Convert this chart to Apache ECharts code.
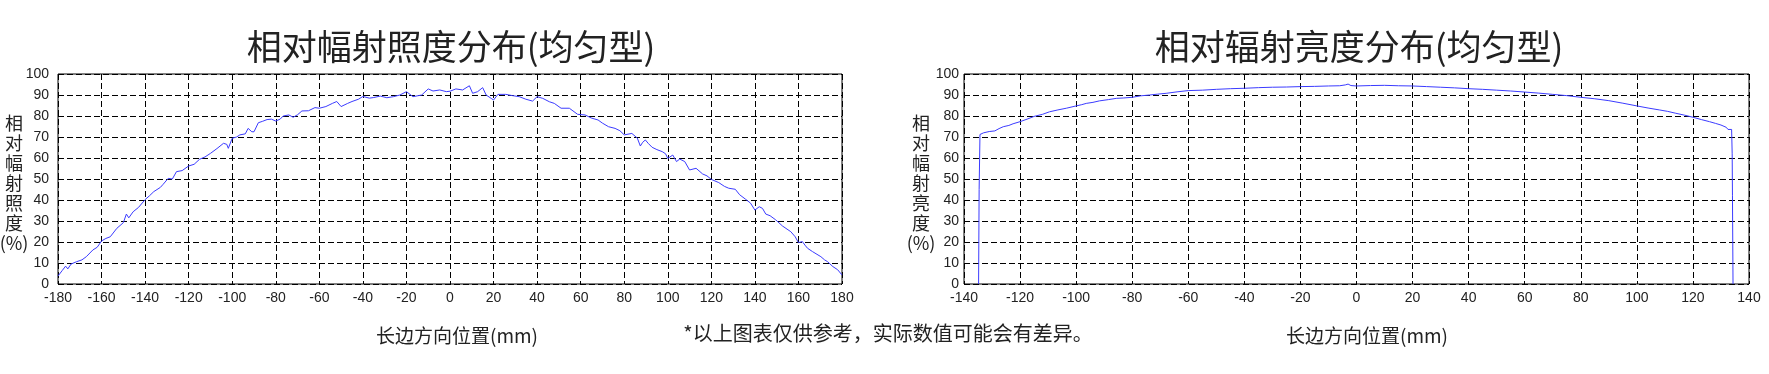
<!DOCTYPE html>
<html>
<head>
<meta charset="utf-8">
<script src="https://cdn.jsdelivr.net/npm/echarts@6/dist/echarts.min.js"></script>
<style>
html,body{margin:0;padding:0;background:#fff;}
#chart{width:1769px;height:374px;}
</style>
</head>
<body>
<div id="chart"></div>
<script>
// ---------- Data ----------
const leftTitle = '相对幅射照度分布(均匀型)';
const rightTitle = '相对辐射亮度分布(均匀型)';
const leftYName = ['相','对','幅','射','照','度','(%)'];
const rightYName = ['相','对','幅','射','亮','度','(%)'];
const xAxisName = '长边方向位置(mm)';
const footnote = '*以上图表仅供参考，实际数值可能会有差异。';

// Left chart: relative irradiance (%) vs position (mm)
const leftX = [-180,-178,-176.5,-175.5,-174,-171.5,-169,-167,-164,-162,-160,-158,-156,-153,-150,-148.6,-147.5,-145.5,-143,-140,
  -138,-136,-133,-131.7,-129.4,-127.5,-125.6,-123,-120,-117.5,-115,-112.5,-110,-107,-104,-102.5,-101.8,-100,-98,-96.5,
  -94,-92.7,-91,-90,-88,-86,-84,-82,-80,-78,-76.6,-74,-72,-70,-68,-65,-62,-60,-57,-54,
  -52,-50,-47,-45,-42,-40,-37,-35,-32,-29,-26,-23,-20,-17,-13,-10,-7.8,-4.7,-1.7,0,
  2.7,5.8,8.9,10.4,12.7,15,16.6,18.9,20,22,25.6,28.7,31.8,34.8,37.9,40,42.6,45.6,47.9,51,
  54.8,58.6,62,65,68,70,72.8,75.8,78,80,83.5,86,87.4,88.5,89.7,91,92.8,95,97.5,99,
  100,102.3,104,105.5,107.8,110,113,116,118,120,123.4,126,128,131,133,135.8,138,140,142,143.5,
  145,147,149.6,152.7,156.5,158.5,160,161.8,163,164.2,166.5,170.3,172,173.4,175.8,178,180];
const leftY = [3.8,6.5,8.5,7.2,9.5,10.6,11.5,13,16.2,17.5,20.5,21.7,22.5,26.5,29.2,33.3,31.5,34.4,36.5,40.2,
  42,44,46,47.5,50.3,50,53.5,54,56.2,57,59.4,60.5,62.2,64.5,67,66.5,64.6,69.4,70,71,
  71.5,74.1,72.5,72.5,76.8,77.5,78.3,78.5,77.6,78.5,80,80.5,79.4,80.6,82.4,82.5,84,83.7,84.5,86,
  86.9,84.5,86,86.9,88,89.3,88.5,88.8,89.5,88.7,89.2,90,91.6,89.2,90,92.9,91.9,92.4,91.6,91.8,
  92.9,92.4,94.4,90.8,91.6,93.5,90,88.4,87.6,90.3,90.3,89.7,89.2,88,87.1,89.2,88.4,86.8,86,83.7,
  83.7,80.8,80.5,79,78.1,76.6,74.9,74.1,73,71,71.7,69.5,65.7,67.5,68.6,67,65.1,64,63,62,
  59.8,61.4,58.3,59.5,58.3,54.3,55.1,52.4,51.5,49.8,48.3,46.5,45.6,45.1,42.5,40.3,38.5,35.2,36.8,36,
  33.3,32.5,30.5,27.6,24.9,22.5,19.7,20.2,18.5,17,15.4,13,11.5,10.6,8.3,6.8,4.3];

// Right chart: relative radiance (%) vs position (mm)
const rightX = [-134.8,-134.6,-134.3,-133,-131,-129,-127.5,-126,-124,-122.5,-120,-117.5,-115,-112,-109.5,-106.5,-103.5,-100,-98,-96.4,
  -94,-91.7,-88.5,-85.7,-83,-80,-77,-73.8,-71,-67.9,-64,-60,-55,-50,-45,-40,-35,-30,-25,-20,
  -15,-10,-6,-4,-3,-2,0,5,10,15,20,25,30,35,40,45,50,55,60,65,
  70,75,80,85,90,95,100,104,108,111,113.9,117,120,123,125.9,128,130,131.9,132.5,133.2,
  133.8,134,134.1,134.3];
const rightY = [0,45,71.2,72,72.6,72.9,74,74.9,75.5,76.3,77.3,78.5,79.8,80.8,82,82.9,83.7,84.8,85.4,86,
  86.5,87.2,87.8,88.4,88.6,88.9,89.6,90,90.4,90.8,91.5,92.1,92.3,92.7,93,93.2,93.5,93.7,93.8,94,
  94.1,94.3,94.4,94.8,95.2,94.5,94.3,94.5,94.6,94.4,94.3,94,93.7,93.4,93,92.7,92.3,91.9,91.4,90.9,
  90.3,89.7,88.9,88.2,87.3,86.1,84.8,83.8,82.9,82.2,81.3,80.4,79.4,78.3,77.3,76.5,75.7,74.6,73.6,74.1,
  73.6,62,42,0];

const leftXRange = [-180, 180];
const rightXRange = [-140, 140];
const yRange = [0, 100];

// ---------- Chart ----------
const chart = echarts.init(document.getElementById('chart'), null, {renderer:'canvas'});
const numFont = 'Liberation Sans, Arial, sans-serif';
const cjkFont = '"Noto Sans CJK SC", sans-serif';
const txtColor = '#222';
const lineColor = '#3b3bff';

function xAxisCfg(idx, range){
  return {
    type:'value', gridIndex:idx, min:range[0], max:range[1], interval:20,
    axisLine:{show:false}, axisTick:{show:false},
    axisLabel:{color:txtColor, fontSize:14, fontFamily:numFont, margin:7},
    splitLine:{show:true, lineStyle:{color:'#000', width:1, type:[6,3]}}
  };
}
function yAxisCfg(idx, margin){
  return {
    type:'value', gridIndex:idx, min:yRange[0], max:yRange[1], interval:10,
    axisLine:{show:false}, axisTick:{show:false},
    axisLabel:{color:txtColor, fontSize:14, fontFamily:numFont, margin:margin},
    splitLine:{show:true, lineStyle:{color:'#000', width:1, type:[6,3]}}
  };
}
function textEl(text, x, y, size, extra){
  return Object.assign({
    type:'text', x:x, y:y, silent:true,
    style:{text:text, fill:txtColor, font: size + 'px ' + cjkFont, textAlign:'center', textVerticalAlign:'middle'}
  }, extra || {});
}

const option = {
  animation:false,
  backgroundColor:'#fff',
  grid:[
    {left:58, top:74, width:784, height:210, show:true, borderColor:'#000', borderWidth:1, backgroundColor:'transparent'},
    {left:964, top:74, width:785, height:210, show:true, borderColor:'#000', borderWidth:1, backgroundColor:'transparent'}
  ],
  xAxis:[xAxisCfg(0, leftXRange), xAxisCfg(1, rightXRange)],
  yAxis:[yAxisCfg(0, 9), yAxisCfg(1, 5)],
  series:[
    {type:'line', xAxisIndex:0, yAxisIndex:0, showSymbol:false, symbol:'none',
     lineStyle:{color:lineColor, width:1}, data:leftX.map((x,i)=>[x,leftY[i]])},
    {type:'line', xAxisIndex:1, yAxisIndex:1, showSymbol:false, symbol:'none',
     lineStyle:{color:lineColor, width:1}, data:rightX.map((x,i)=>[x,rightY[i]])}
  ],
  graphic:[
    textEl(leftTitle, 451, 47, 35),
    textEl(rightTitle, 1359, 47, 35),
    {type:'text', x:14, y:113, silent:true,
     style:{text:leftYName.join('\n'), fill:txtColor, font:'18px ' + cjkFont, textAlign:'center', textVerticalAlign:'top', lineHeight:20}},
    {type:'text', x:921, y:113, silent:true,
     style:{text:rightYName.join('\n'), fill:txtColor, font:'18px ' + cjkFont, textAlign:'center', textVerticalAlign:'top', lineHeight:20}},
    textEl(xAxisName, 457, 336, 19),
    textEl(xAxisName, 1367, 336, 19),
    textEl(footnote, 888, 333, 20)
  ]
};
chart.setOption(option);
</script>
</body>
</html>
